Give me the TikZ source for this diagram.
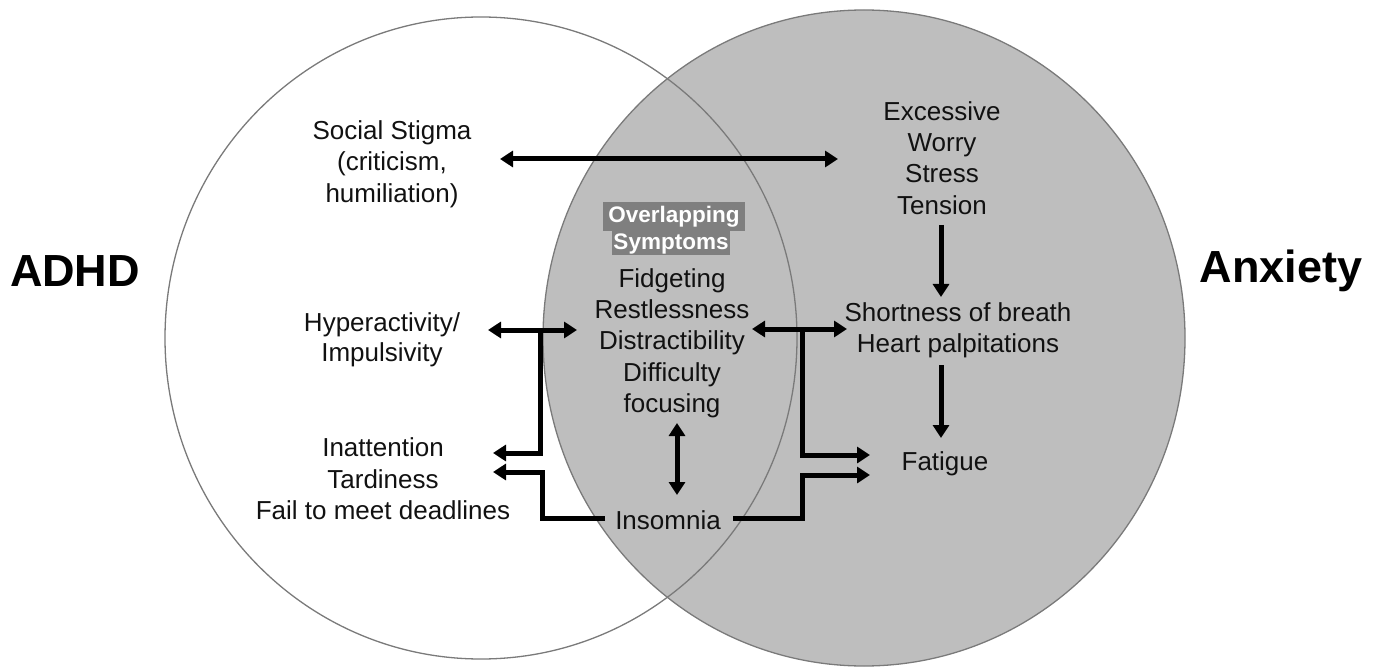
\documentclass[tikz,border=0pt]{standalone}
\usepackage{fontspec}
\setmainfont{Liberation Sans}
\usetikzlibrary{arrows.meta}
\definecolor{venn}{HTML}{BEBEBE}
\definecolor{edge}{HTML}{7A7A7A}
\definecolor{hlgray}{HTML}{7F7F7F}
\definecolor{ink}{HTML}{111111}
\begin{document}
\begin{tikzpicture}[x=1pt,y=-1pt,
  lbl/.style={align=center,font=\fontsize{26}{31.3}\selectfont,inner sep=0pt,text=ink},
  ttl/.style={font=\fontsize{45}{54}\selectfont\bfseries,inner sep=0pt,text=black},
  hl/.style={fill=hlgray,text=white,font=\fontsize{22.5}{27}\selectfont\bfseries,inner sep=0pt},
  tipA/.tip={Triangle[length=13pt,width=16pt]},
  conn/.style={line width=5pt,-tipA,line join=miter},
  dconn/.style={line width=5pt,tipA-tipA},
  seg/.style={line width=5pt,line join=miter},
  ring/.style={draw=edge,line width=1.3pt}
]
\useasboundingbox (0,0) rectangle (1381,668);
% circles
\path[ring,fill=venn] (864,338) ellipse [x radius=321pt, y radius=328pt];
\path[ring] (481,338) ellipse [x radius=316pt, y radius=321pt];

% titles
\node[ttl] (adhd) at (75,271) {ADHD};
\node[ttl] (anx) at (1281,271) {Anxiety};

% labels
\node[lbl] (social) at (392,164) {Social Stigma\\(criticism,\\humiliation)};
\node[lbl] (worry) at (942,158) {Excessive\\Worry\\Stress\\Tension};
\node[hl,minimum width=142pt,minimum height=29pt] (ov1) at (674,217) {Overlapping};
\node[hl,minimum width=118pt,minimum height=24pt] (ov2) at (671,243.5) {Symptoms};
\node[lbl] (overlap) at (672,343) {Fidgeting\\Restlessness\\Distractibility\\Difficulty\\focusing};
\node[lbl] (breath) at (958,330) {Shortness of breath\\Heart palpitations};
\node[lbl,font=\fontsize{26}{30}\selectfont] (hyper) at (382,340) {Hyperactivity/\\Impulsivity};
\node[lbl] (inatt) at (383,479) {Inattention\\Tardiness\\Fail to meet deadlines};
\node[lbl] (fatigue) at (945,464) {Fatigue};
\node[lbl] (insomnia) at (668,520) {Insomnia};

% connector end points
\coordinate (s1) at (500,159);
\coordinate (s2) at (838,159);
\coordinate (t1) at (941,225);
\coordinate (t2) at (941,297);
\coordinate (b1) at (941,365);
\coordinate (b2) at (941,438);
\coordinate (h1) at (488,330);
\coordinate (h2) at (577,330);
\coordinate (hj) at (540,330);
\coordinate (hk) at (540,453);
\coordinate (ia) at (493,453);
\coordinate (il) at (605,518);
\coordinate (ic) at (542,518);
\coordinate (id) at (542,472);
\coordinate (ta) at (493,472);
\coordinate (d1) at (752,329);
\coordinate (d2) at (847,329);
\coordinate (dj) at (802,329);
\coordinate (dk) at (802,455);
\coordinate (fa) at (870,455);
\coordinate (ir) at (733,518);
\coordinate (ie) at (802,518);
\coordinate (if) at (802,475);
\coordinate (fb) at (870,475);
\coordinate (v1) at (677,423);
\coordinate (v2) at (677,495);

% connectors
\draw[dconn] (s1) -- (s2);
\draw[conn] (t1) -- (t2);
\draw[conn] (b1) -- (b2);
\draw[dconn] (h1) -- (h2);
\draw[conn] (hj) -- (hk) -- (ia);
\draw[conn] (il) -- (ic) -- (id) -- (ta);
\draw[dconn] (d1) -- (d2);
\draw[conn] (dj) -- (dk) -- (fa);
\draw[conn] (ir) -- (ie) -- (if) -- (fb);
\draw[dconn] (v1) -- (v2);
\end{tikzpicture}
\end{document}
